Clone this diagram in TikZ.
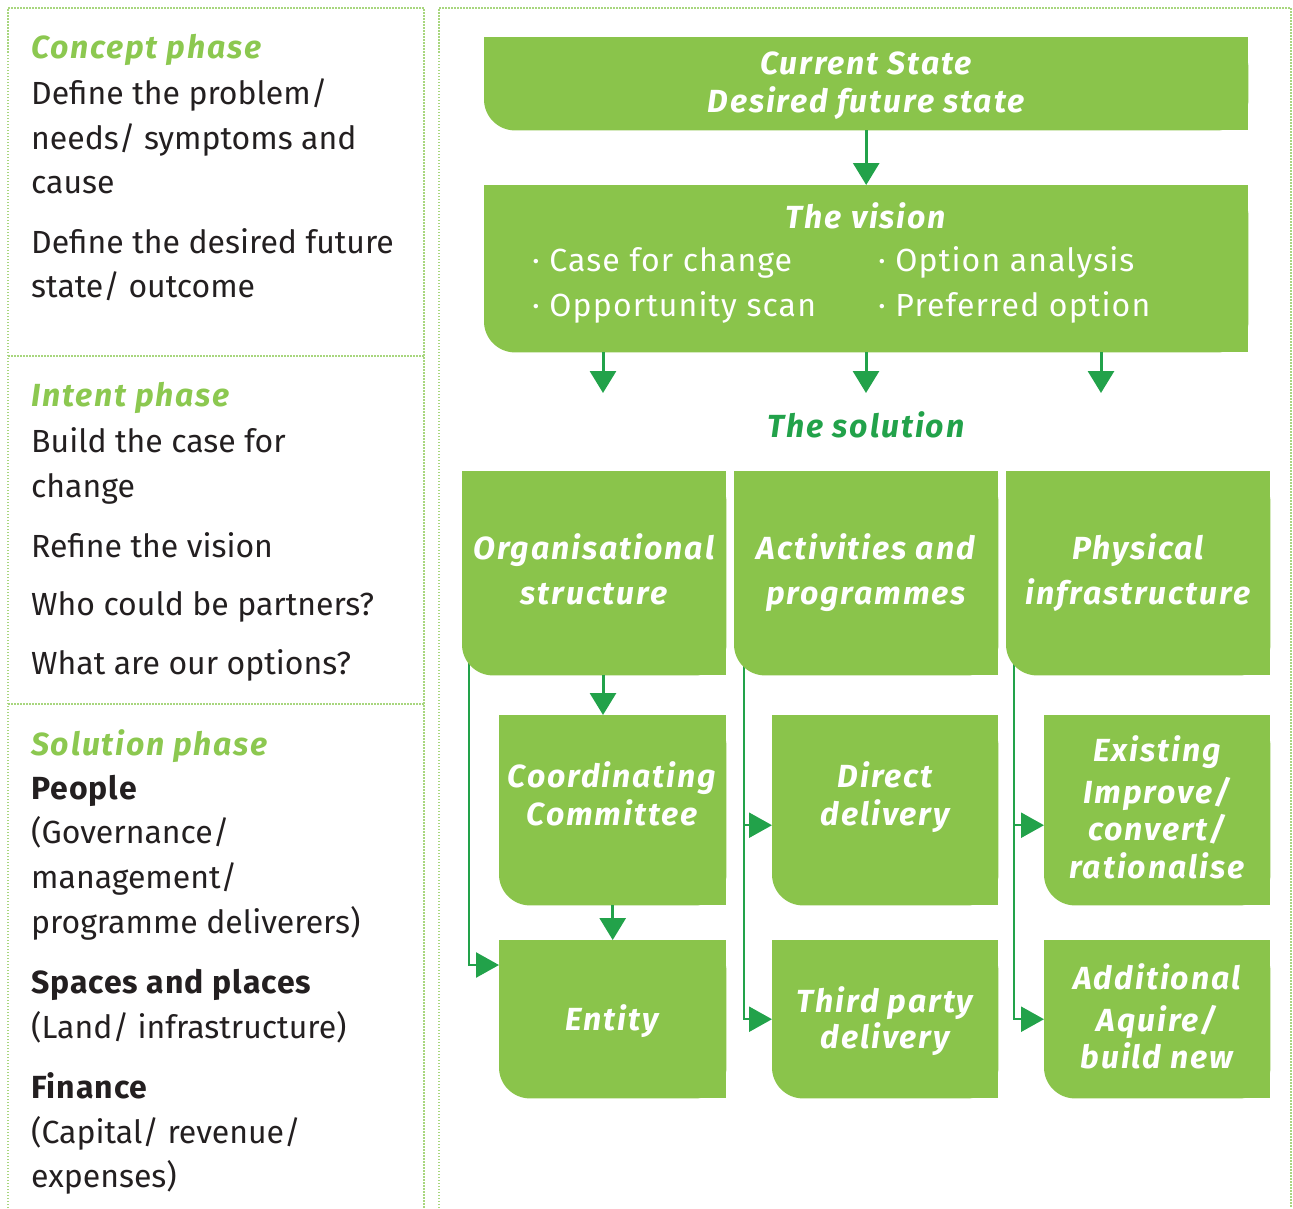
\documentclass[tikz,border=0pt]{standalone}
\usepackage{fontspec}
\setmainfont{Fira Sans}
\usetikzlibrary{arrows.meta}
\definecolor{boxg}{HTML}{8AC44B}
\definecolor{darkg}{HTML}{22A24A}
\definecolor{headg}{HTML}{8CC850}
\definecolor{dotg}{HTML}{A8D67E}
\definecolor{txt}{HTML}{231F20}
\newcommand\gfill[1]{%
  \fill[boxg,rounded corners=31pt] (#1.south west) rectangle (#1.north east);
  \fill[boxg] (#1.north west) rectangle ([yshift=32pt]#1.south east);
  \fill[boxg] ([xshift=32pt]#1.south west) rectangle (#1.north east);}
\begin{document}
\begin{tikzpicture}[x=1pt,y=-1pt,
  body/.style={anchor=base west, inner sep=0pt, text=txt, font=\fontsize{32}{38}\selectfont},
  bodyb/.style={anchor=base west, inner sep=0pt, text=txt, font=\fontsize{32}{38}\selectfont\bfseries\addfontfeatures{LetterSpace=3}},
  head/.style={anchor=base west, inner sep=0pt, text=headg, font=\fontsize{32}{38}\selectfont\bfseries\itshape\addfontfeatures{LetterSpace=5.5}},
  btxt/.style={anchor=base, inner sep=0pt, text=white, font=\fontsize{32}{38}\selectfont\bfseries\itshape\addfontfeatures{LetterSpace=6}},
  bul/.style={anchor=base west, inner sep=0pt, text=white, font=\fontsize{32}{38}\selectfont\addfontfeatures{LetterSpace=3.5}},
  gbox/.style={rectangle, inner sep=0pt, anchor=north west},
  arr/.style={draw=darkg, line width=3pt, -{Triangle[width=26pt,length=22pt]}},
  sarr/.style={draw=darkg, line width=2.5pt, -{Triangle[width=25pt,length=23pt]}},
  dots/.style={draw=dotg, line width=1.5pt, dash pattern=on 1.5pt off 1.5pt}
]
\useasboundingbox (0,0) rectangle (1293,1208);
% panels
\draw[dots] (8,1208) -- (8,8) -- (424,8) -- (424,1208);
\draw[dots] (8,356) -- (424,356);
\draw[dots] (8,704) -- (424,704);
\draw[dots] (439,1208) -- (439,8) -- (1291,8) -- (1291,1208);

% left text
\node[head] (h1) at (31,58) {Concept phase};
\node[body] (l1) at (31,104) {Define the problem/};
\node[body] (l2) at (31,149) {needs/ symptoms and};
\node[body] (l3) at (31,193) {cause};
\node[body] (l4) at (31,253) {Define the desired future};
\node[body] (l5) at (31,297) {state/ outcome};
\node[head] (h2) at (31,406) {Intent phase};
\node[body] (l6) at (31,452) {Build the case for};
\node[body] (l7) at (31,497) {change};
\node[body] (l8) at (31,557) {Refine the vision};
\node[body] (l9) at (31,615) {Who could be partners?};
\node[body] (l10) at (31,674) {What are our options?};
\node[head] (h3) at (31,755) {Solution phase};
\node[bodyb] (l11) at (31,799) {People};
\node[body] (l12) at (31,843) {(Governance/};
\node[body] (l13) at (31,888) {management/};
\node[body] (l14) at (31,933) {programme deliverers)};
\node[bodyb] (l15) at (31,993) {Spaces and places};
\node[body] (l16) at (31,1038) {(Land/ infrastructure)};
\node[bodyb] (l17) at (31,1098) {Finance};
\node[body] (l18) at (31,1143) {(Capital/ revenue/};
\node[body] (l19) at (31,1187) {expenses)};

% box nodes
\node[gbox, minimum width=764, minimum height=93] (cur) at (484,37) {};
\node[gbox, minimum width=764, minimum height=167] (vis) at (484,185) {};
\node[gbox, minimum width=264, minimum height=204] (org) at (462,471) {};
\node[gbox, minimum width=264, minimum height=204] (act) at (734,471) {};
\node[gbox, minimum width=264, minimum height=204] (phy) at (1006,471) {};
\node[gbox, minimum width=227, minimum height=190] (coo) at (499,715) {};
\node[gbox, minimum width=227, minimum height=158] (ent) at (499,940) {};
\node[gbox, minimum width=226, minimum height=190] (dd) at (772,715) {};
\node[gbox, minimum width=226, minimum height=158] (tp) at (772,940) {};
\node[gbox, minimum width=226, minimum height=190] (ex) at (1044,715) {};
\node[gbox, minimum width=226, minimum height=158] (ad) at (1044,940) {};
\coordinate (s1) at (603,393);
\coordinate (s2) at (866,393);
\coordinate (s3) at (1101,393);

% side connectors (under the boxes)
\draw[sarr] ([xshift=7pt,yshift=25pt]org.south west) |- ([yshift=-25pt]ent.north west);
\draw[sarr] ([xshift=10pt,yshift=25pt]act.south west) |- ([yshift=-15pt]dd.west);
\draw[sarr] ([xshift=10pt,yshift=25pt]act.south west) |- (tp.west);
\draw[sarr] ([xshift=8pt,yshift=25pt]phy.south west) |- ([yshift=-15pt]ex.west);
\draw[sarr] ([xshift=8pt,yshift=25pt]phy.south west) |- (ad.west);

% fills
\gfill{cur}\gfill{vis}\gfill{org}\gfill{act}\gfill{phy}
\gfill{coo}\gfill{ent}\gfill{dd}\gfill{tp}\gfill{ex}\gfill{ad}

% down arrows
\draw[arr] (cur.south) -- (vis.north);
\draw[arr] (vis.south -| s1) -- (s1);
\draw[arr] (vis.south -| s2) -- (s2);
\draw[arr] (vis.south -| s3) -- (s3);
\draw[arr] (org.south -| s1) -- (coo.north -| s1);
\draw[arr] (coo.south) -- (ent.north);

% box texts
\node[btxt] (t1) at (866,74) {Current State};
\node[btxt] (t2) at (866,112) {Desired future state};
\node[btxt] (t3) at (866,228) {The vision};
\node[bul] (b1) at (532,271) {·\ Case for change};
\node[bul] (b2) at (532,316) {·\ Opportunity scan};
\node[bul] (b3) at (878,271) {·\ Option analysis};
\node[bul] (b4) at (878,316) {·\ Preferred option};
\node[btxt, text=darkg] (sol) at (866,437) {The solution};
\node[btxt] (o1) at (594,559) {Organisational};
\node[btxt] (o2) at (594,604) {structure};
\node[btxt] (a1) at (866,559) {Activities and};
\node[btxt] (a2) at (866,604) {programmes};
\node[btxt] (p1) at (1138,559) {Physical};
\node[btxt] (p2) at (1138,604) {infrastructure};
\node[btxt] (c1) at (612,787) {Coordinating};
\node[btxt] (c2) at (612,825) {Committee};
\node[btxt] (e1) at (612,1030) {Entity};
\node[btxt] (d1) at (885,787) {Direct};
\node[btxt] (d2) at (885,825) {delivery};
\node[btxt] (d3) at (885,1012) {Third party};
\node[btxt] (d4) at (885,1048) {delivery};
\node[btxt] (x1) at (1157,761) {Existing};
\node[btxt] (x2) at (1157,803) {Improve/};
\node[btxt] (x3) at (1157,840) {convert/};
\node[btxt] (x4) at (1157,878) {rationalise};
\node[btxt] (y1) at (1157,989) {Additional};
\node[btxt] (y2) at (1157,1031) {Aquire/};
\node[btxt] (y3) at (1157,1068) {build new};
\end{tikzpicture}
\end{document}
